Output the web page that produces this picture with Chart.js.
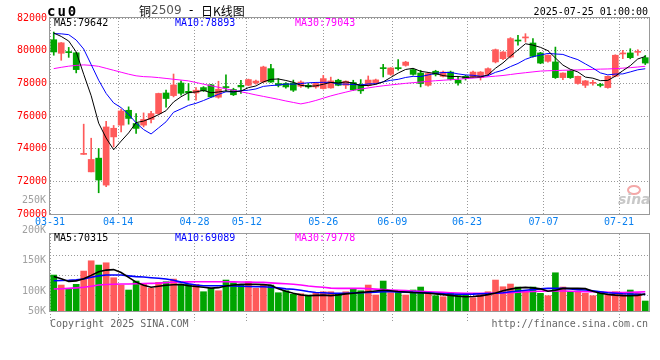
<!DOCTYPE html>
<html>
<head>
<meta charset="utf-8">
<script src="https://cdn.jsdelivr.net/npm/chart.js@4/dist/chart.umd.min.js"></script>
<style>
    body { margin: 0; background: #fff; }
    #wrap { position: relative; width: 660px; height: 360px; }
    #wrap canvas { position: absolute; left: 0; top: 0; }
</style>
</head>
<body>
<div id="wrap">
    <canvas id="price-canvas" width="660" height="360"></canvas>
    <canvas id="volume-canvas" width="660" height="360"></canvas>
</div>
<script>
const upColor = '#ff5a5a';
const downColor = '#00a400';
const gridColor = '#999999';
const frameColor = '#999999';
const mono = '"DejaVu Sans Mono", monospace';

// daily bars cu2509, 03-31 .. 07-25
const opens = [80670, 79840, 79920, 79870, 73650, 72580, 73420, 71770, 74720, 75440,
    76350, 75540, 75440, 75790, 76150, 77410, 77250, 78020, 77510, 77410,
    77740, 77910, 77150, 77780, 77620, 77880, 77880, 78020, 78080, 78900,
    77990, 77990, 78020, 77820, 77880, 77780, 77680, 77720, 78190, 77880,
    78050, 77940, 77860, 78000, 78920, 78550, 78920, 79100, 78840, 78630,
    77880, 78740, 78430, 78690, 78190, 78430, 78390, 78350, 78550, 79310,
    79510, 79610, 80620, 80780, 80470, 79860, 79350, 79310, 78350, 78760,
    77990, 77880, 78000, 77890, 77740, 78430, 79800, 79860, 79900, 79570];
const highs = [81140, 80500, 80200, 79900, 75500, 74640, 74010, 75680, 75420, 76420,
    76560, 76150, 76190, 76290, 77400, 77580, 78570, 78160, 77990, 77740,
    77800, 77940, 78130, 78520, 77700, 78190, 78260, 78200, 79050, 79160,
    78290, 78050, 78200, 78150, 78000, 78050, 78490, 78380, 78250, 78150,
    78190, 78230, 78450, 78260, 79165, 78960, 79450, 79350, 78900, 78800,
    78650, 78800, 78750, 78750, 78390, 78500, 78750, 78720, 78950, 80100,
    79950, 80800, 80940, 81040, 80740, 79900, 79750, 80220, 78650, 78800,
    78450, 78180, 78190, 78000, 78450, 79750, 80020, 80120, 80060, 79710];
const lows = [79720, 79410, 79590, 78640, 73650, 72580, 71300, 71670, 74110, 75030,
    75500, 74930, 75330, 75580, 76100, 76540, 77170, 77270, 76970, 76970,
    77500, 77150, 77090, 77520, 77250, 77380, 77850, 77950, 78050, 78050,
    77780, 77700, 77500, 77750, 77700, 77700, 77650, 77700, 77850, 77680,
    77560, 77380, 77820, 77950, 78390, 78490, 78800, 79050, 78500, 77780,
    77820, 78450, 78400, 78200, 77880, 78200, 78350, 78200, 78500, 79250,
    79450, 79550, 80330, 80530, 79600, 79200, 79300, 78300, 78230, 78300,
    77950, 77740, 77880, 77780, 77700, 78400, 79510, 79500, 79710, 79150];
const closes = [79920, 80480, 79880, 78840, 73660, 73340, 72080, 75330, 75250, 76310,
    75850, 75240, 75790, 76150, 77380, 77070, 77900, 77390, 77420, 77580,
    77550, 77170, 77640, 77740, 77300, 77780, 78230, 78140, 79000, 78080,
    77880, 77780, 77580, 78080, 77780, 77990, 78290, 78150, 77880, 78130,
    77600, 77540, 78200, 78210, 78900, 78940, 78900, 79300, 78550, 77990,
    78600, 78550, 78690, 78250, 78020, 78290, 78690, 78690, 78900, 80060,
    79920, 80740, 80590, 80800, 79650, 79240, 79720, 78350, 78630, 78350,
    78430, 78150, 78020, 77870, 78430, 79720, 79820, 79570, 79920, 79240];

const ma5 = [81080, 80870, 80590, 79920, 78556, 77240, 75560, 74650, 73932, 74462,
    74964, 75596, 75688, 75868, 76082, 76326, 76858, 77178, 77432, 77472,
    77568, 77422, 77472, 77536, 77480, 77526, 77738, 77838, 78090, 78246,
    78266, 78176, 78064, 77880, 77820, 77842, 77944, 78058, 78018, 78088,
    78010, 77860, 77870, 77936, 78090, 78358, 78630, 78850, 78918, 78736,
    78668, 78598, 78476, 78416, 78422, 78360, 78388, 78388, 78518, 78926,
    79252, 79662, 80042, 80422, 80340, 80204, 80000, 79552, 79118, 78858,
    78696, 78382, 78316, 78164, 78180, 78438, 78772, 79082, 79492, 79642];
const ma10 = [81040, 81030, 80980, 80650, 80100, 79150, 78190, 77380, 76800, 76509,
    76102, 75578, 75169, 74900, 75272, 75645, 76227, 76433, 76650, 76777,
    76947, 77140, 77325, 77484, 77476, 77547, 77580, 77655, 77813, 77863,
    77896, 77957, 77951, 77985, 78033, 78054, 78060, 78061, 77949, 77954,
    77926, 77902, 77964, 77977, 78089, 78184, 78245, 78360, 78427, 78413,
    78513, 78614, 78663, 78667, 78579, 78514, 78493, 78432, 78467, 78674,
    78806, 79025, 79215, 79470, 79633, 79728, 79831, 79797, 79770, 79599,
    79450, 79191, 78934, 78641, 78519, 78567, 78577, 78699, 78828, 78893];
const ma30 = [78900, 78980, 79050, 79100, 79130, 79100, 79040, 78920, 78800, 78680,
    78560, 78460, 78410, 78390, 78350, 78300, 78250, 78200, 78150, 78050,
    77950, 77850, 77760, 77660, 77570, 77480, 77390, 77290, 77200, 77110,
    77020, 76920, 76830, 76740, 76830, 76950, 77090, 77230, 77350, 77460,
    77570, 77650, 77720, 77790, 77850, 77900, 77950, 78000, 78040, 78080,
    78120, 78160, 78190, 78220, 78250, 78290, 78320, 78360, 78400, 78440,
    78480, 78540, 78600, 78650, 78700, 78750, 78770, 78780, 78800, 78810,
    78820, 78840, 78850, 78870, 78880, 78900, 78930, 78960, 79000, 79043];

const volumes = [149400, 107900, 94200, 110800, 166000, 208700, 190900, 200400, 138200, 107900,
    87200, 124500, 112100, 94200, 119100, 121600, 132800, 110800, 110800, 110800,
    80100, 94200, 84200, 128700, 117400, 107900, 121600, 94200, 110800, 107900,
    75900, 84200, 69300, 71800, 66400, 73500, 80100, 80100, 73500, 80100,
    90100, 84200, 107900, 66400, 124500, 75900, 80100, 66400, 87200, 99600,
    75900, 63500, 59300, 73500, 69300, 66400, 55200, 69300, 80100, 128700,
    100800, 112100, 99600, 83000, 99600, 73500, 63500, 158900, 99600, 80100,
    83000, 73500, 63500, 80100, 66400, 80100, 73500, 87200, 73500, 41500];
const volMa5 = [143000, 134000, 123000, 125000, 134000, 148000, 163000, 170000, 172000, 160000,
    140000, 120000, 107000, 99000, 103000, 107000, 109000, 110800, 105000, 102000,
    99000, 95000, 97000, 104000, 108000, 110800, 110800, 110500, 109500, 107000,
    92000, 82000, 73500, 67000, 63500, 65000, 66000, 64000, 67000, 71000,
    74000, 77000, 80000, 83000, 86000, 84000, 81000, 79000, 77000, 75900,
    73500, 71000, 68000, 65000, 61500, 59300, 60500, 63000, 68000, 75000,
    84000, 91000, 96000, 98000, 96000, 92000, 82000, 86000, 94000, 94200,
    94200, 93000, 82000, 74000, 69000, 66000, 64000, 63500, 65000, 70315];
const volMa10 = [125700, 127000, 128000, 130000, 132800, 140000, 146000, 149400, 149400, 149400,
    146000, 143000, 141000, 138200, 136000, 133000, 128000, 120000, 113000, 108000,
    105000, 105000, 105000, 105000, 104000, 103000, 102000, 101000, 100800, 99000,
    96000, 92000, 90100, 86000, 81000, 77000, 75900, 74000, 73500, 74000,
    75000, 76000, 77000, 78500, 80000, 80100, 79500, 78500, 77500, 76500,
    75900, 74000, 72000, 70500, 69300, 69300, 70000, 71500, 73000, 73500,
    76000, 80000, 83000, 86000, 89000, 92000, 94000, 94200, 94200, 92000,
    89000, 87200, 84000, 80000, 76000, 73500, 71500, 70500, 69800, 69089];
const volMa30 = [91300, 92500, 94000, 96000, 98400, 103000, 107900, 110000, 111000, 112000,
    112500, 113000, 114000, 114900, 116000, 118000, 119500, 120500, 121000, 121600,
    121600, 121600, 121600, 121600, 121000, 120500, 120000, 119500, 119100, 117000,
    115000, 113000, 111000, 108000, 104000, 101000, 98400, 95000, 94200, 94200,
    94200, 94200, 93000, 91000, 89000, 87200, 86000, 84500, 83000, 81500,
    80100, 79000, 77500, 76000, 74500, 73500, 73500, 73500, 73500, 73500,
    74500, 76000, 78000, 80100, 81000, 82000, 83000, 83000, 83000, 82000,
    81000, 80100, 80100, 79000, 78000, 77000, 76500, 77500, 78500, 79778];

// date marks on the time axis (in bar units) and their labels
const dateTicks = [-0.5, 8.6, 18.8, 25.8, 36.0, 45.2, 55.2, 65.4, 75.5];
const dateLabels = ['03-31', '04-14', '04-28', '05-12', '05-26', '06-09', '06-23', '07-07', '07-21'];
const priceMin = 70000, priceMax = 82000, priceStep = 2000;
const volMax = 320000;
const volGrid = [64000, 147000, 230000];
const volLabels = ['200K', '150K', '100K', '50K'];

const last = a => a[a.length - 1];
const barColors = opens.map((o, i) => closes[i] >= o ? upColor : downColor);
const pts = arr => arr.map((v, i) => ({ x: i, y: v }));

const maLine = (data, color, width) => ({
    type: 'line',
    data: pts(data),
    borderColor: color,
    borderWidth: width,
    pointRadius: 0,
    tension: 0,
    order: 0
});

const xScale = (showLabels) => ({
    type: 'linear',
    offset: false,
    min: -0.5,
    max: opens.length - 0.5,
    afterBuildTicks: s => { s.ticks = dateTicks.map(v => ({ value: v })); },
    afterFit: s => { s.height = showLabels ? 14 : 11; },
    ticks: {
        display: showLabels,
        autoSkip: false,
        maxRotation: 0,
        padding: 2,
        color: '#0a80f0',
        font: { family: mono, size: 10 },
        callback: (v, i) => dateLabels[i]
    },
    grid: {
        offset: false,
        color: gridColor,
        drawTicks: !showLabels,
        tickLength: 11,
        tickColor: gridColor,
        tickBorderDash: [1, 2]
    },
    border: { display: false, dash: [1, 2] }
});

const frame = (ctx, a) => {
    ctx.save();
    ctx.strokeStyle = frameColor;
    ctx.lineWidth = 1;
    ctx.strokeRect(a.left - 0.5, a.top - 0.5, a.right - a.left + 1, a.bottom - a.top + 1);
    ctx.restore();
};

const legendRow = (ctx, y, vals) => {
    ctx.font = `10px ${mono}`;
    ctx.textBaseline = 'middle';
    ctx.textAlign = 'left';
    ctx.fillStyle = '#000';
    ctx.fillText(`MA5:${vals[0]}`, 54, y);
    ctx.fillStyle = '#0000ff';
    ctx.fillText(`MA10:${vals[1]}`, 175, y);
    ctx.fillStyle = '#ff00ff';
    ctx.fillText(`MA30:${vals[2]}`, 295, y);
};

const priceDecor = {
    id: 'priceDecor',
    afterDraw: chart => {
        const ctx = chart.ctx;
        const a = chart.chartArea;
        frame(ctx, a);
        ctx.save();
        // header
        ctx.textBaseline = 'middle';
        ctx.fillStyle = '#000';
        ctx.font = `bold 14px ${mono}`;
        ctx.letterSpacing = '2px';
        ctx.fillText('cu0', 47, 12);
        ctx.letterSpacing = '0px';
        ctx.font = '12px "Noto Sans CJK SC"';
        ctx.fillText('铜', 139, 11);
        ctx.fillStyle = '#555';
        ctx.font = '12px "DejaVu Sans"';
        ctx.fillText('2509', 151, 11);
        ctx.fillStyle = '#000';
        ctx.fillText('-', 189, 11);
        ctx.font = '12px "Noto Sans CJK SC"';
        ctx.fillText('日K线图', 201, 11);
        ctx.font = `10px ${mono}`;
        ctx.textAlign = 'right';
        ctx.fillText('2025-07-25 01:00:00', 648, 12);
        ctx.fillStyle = '#a0a0a0';
        ctx.fillText('250K', 46, 200);
        legendRow(ctx, 23.5, [last(ma5), last(ma10), last(ma30)]);
        // sina watermark
        ctx.strokeStyle = '#f4a8a8';
        ctx.lineWidth = 2;
        ctx.beginPath();
        ctx.ellipse(634, 190, 6, 4, 0, 0, Math.PI * 2);
        ctx.stroke();
        ctx.fillStyle = '#c8c8c8';
        ctx.font = 'italic bold 14px "DejaVu Sans"';
        ctx.textAlign = 'left';
        ctx.fillText('sina', 618, 200);
        ctx.restore();
    }
};

const volumeDecor = {
    id: 'volumeDecor',
    afterDraw: chart => {
        const ctx = chart.ctx;
        const a = chart.chartArea;
        frame(ctx, a);
        ctx.save();
        legendRow(ctx, 238.5, [last(volMa5), last(volMa10), last(volMa30)]);
        ctx.font = `10px ${mono}`;
        ctx.textBaseline = 'middle';
        ctx.textAlign = 'right';
        ctx.fillStyle = '#a0a0a0';
        [230, 260, 291, 311].forEach((y, i) => ctx.fillText(volLabels[i], 46, y));
        ctx.fillStyle = '#666';
        ctx.fillText('http://finance.sina.com.cn', 648, 324);
        ctx.textAlign = 'left';
        ctx.fillText('Copyright 2025 SINA.COM', 50, 324);
        ctx.restore();
    }
};

document.addEventListener('DOMContentLoaded', () => {
    Chart.defaults.animation = false;
    Chart.defaults.plugins.legend.display = false;
    Chart.defaults.plugins.tooltip.enabled = false;

    new Chart(document.getElementById('price-canvas'), {
        type: 'bar',
        data: {
            datasets: [
                maLine(ma5, '#000000', 1),
                maLine(ma10, '#0000ff', 1),
                maLine(ma30, '#ff00ff', 1),
                {
                    data: opens.map((o, i) => ({ x: i, y: [o, closes[i]] })),
                    backgroundColor: barColors,
                    barThickness: 6,
                    minBarLength: 1,
                    grouped: false,
                    order: 1
                },
                {
                    data: lows.map((l, i) => ({ x: i, y: [l, highs[i]] })),
                    backgroundColor: barColors,
                    barThickness: 1,
                    grouped: false,
                    order: 2
                }
            ]
        },
        options: {
            responsive: false,
            devicePixelRatio: 1,
            layout: { autoPadding: false, padding: { left: 0, right: 11, top: 18, bottom: 132 } },
            scales: {
                x: xScale(true),
                y: {
                    min: priceMin,
                    max: priceMax,
                    afterFit: s => { s.width = 50; },
                    ticks: {
                        stepSize: priceStep,
                        padding: 3,
                        color: '#ff0000',
                        font: { family: mono, size: 10 },
                        callback: v => String(v)
                    },
                    grid: { color: gridColor, drawTicks: false },
                    border: { display: false, dash: [1, 2] }
                }
            }
        },
        plugins: [priceDecor]
    });

    new Chart(document.getElementById('volume-canvas'), {
        type: 'bar',
        data: {
            datasets: [
                maLine(volMa5, '#000000', 1.6),
                maLine(volMa10, '#0000ff', 1.6),
                maLine(volMa30, '#ff00ff', 1.6),
                {
                    data: volumes.map((v, i) => ({ x: i, y: v })),
                    backgroundColor: barColors,
                    barThickness: 6,
                    grouped: false,
                    order: 1
                }
            ]
        },
        options: {
            responsive: false,
            devicePixelRatio: 1,
            layout: { autoPadding: false, padding: { left: 0, right: 11, top: 234, bottom: 38 } },
            scales: {
                x: xScale(false),
                y: {
                    min: 0,
                    max: volMax,
                    afterBuildTicks: s => { s.ticks = volGrid.map(v => ({ value: v })); },
                    afterFit: s => { s.width = 50; },
                    ticks: { display: false },
                    grid: { color: gridColor, drawTicks: false },
                    border: { display: false, dash: [1, 2] }
                }
            }
        },
        plugins: [volumeDecor]
    });
});
</script>
</body>
</html>
